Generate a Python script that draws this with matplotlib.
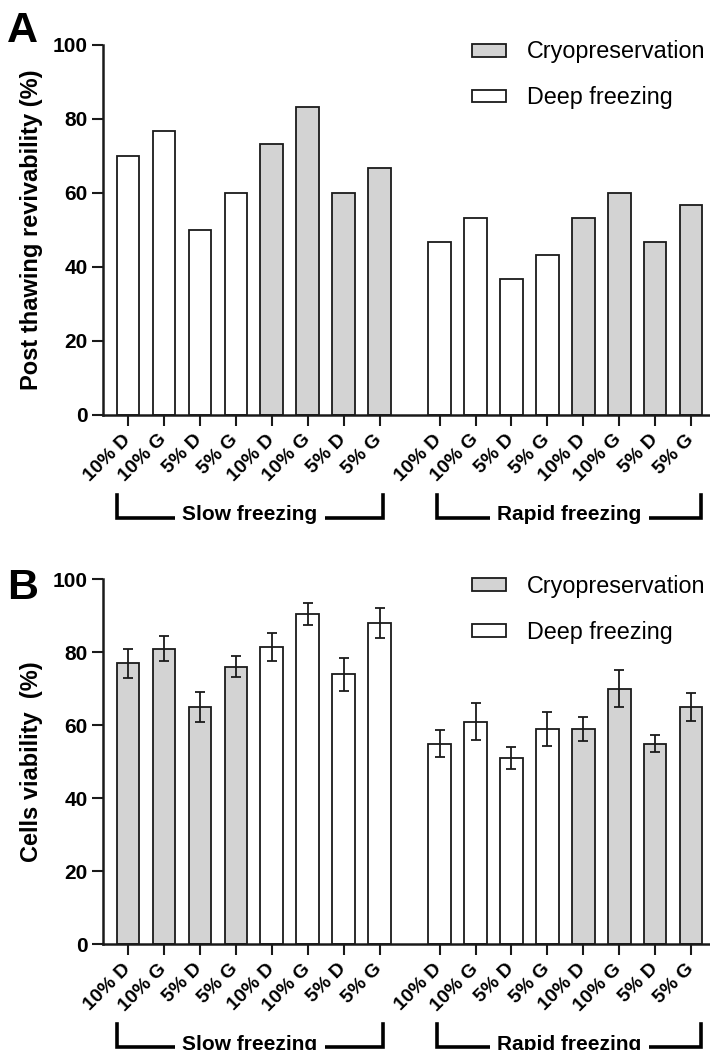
import matplotlib.pyplot as plt
import numpy as np
from matplotlib.patches import Patch
from matplotlib.transforms import blended_transform_factory

# Data.
TICK_LABELS = ["10% D", "10% G", "5% D", "5% G"] * 4
GROUPS = ["Slow freezing", "Rapid freezing"]

# Panel A: post thawing revivability (%).
REVIVABILITY = [70, 76.7, 50, 60, 73.3, 83.3, 60, 66.7,
                46.7, 53.3, 36.7, 43.3, 53.3, 60, 46.7, 56.7]
METHOD_A = ["Deep"] * 4 + ["Cryo"] * 4 + ["Deep"] * 4 + ["Cryo"] * 4

# Panel B: cells viability (%) with error bars.
VIABILITY = [77, 81, 65, 76, 81.5, 90.5, 74, 88,
             55, 61, 51, 59, 59, 70, 55, 65]
VIABILITY_ERR = [4, 3.4, 4.2, 2.9, 3.8, 3, 4.5, 4,
                 3.7, 5, 3, 4.6, 3.2, 5.1, 2.4, 3.9]
METHOD_B = ["Cryo"] * 4 + ["Deep"] * 4 + ["Deep"] * 4 + ["Cryo"] * 4

COLORS = {"Cryo": "#d3d3d3", "Deep": "white"}
EDGE = "#1a1a1a"


def draw_panel(ax, values, methods, ylabel, err=None, bracket_off=(-0.2776, -0.216, -0.285)):
    # two groups of 8 bars, a wider gap between them
    xs = np.concatenate([np.arange(8), np.arange(8) + 8.67])
    colors = [COLORS[m] for m in methods]
    ax.bar(xs, values, width=0.62, color=colors, edgecolor=EDGE, linewidth=1.3, zorder=2)
    if err is not None:
        ax.errorbar(xs, values, yerr=err, fmt="none", ecolor=EDGE,
                    elinewidth=1.3, capsize=3.6, capthick=1.3, zorder=3)

    ax.set_xlim(-0.69, 16.19)
    ax.set_ylim(0, 100)
    ax.set_yticks([0, 20, 40, 60, 80, 100])
    ax.set_xticks(xs)
    ax.set_xticklabels(TICK_LABELS, rotation=45, ha="right", va="center",
                       rotation_mode="anchor", fontsize=14, fontweight="bold")
    for lab in ax.get_yticklabels():
        lab.set_fontweight("bold")
        lab.set_fontsize(15)
    ax.tick_params(axis="both", direction="out", length=8, width=1.5, color=EDGE)
    ax.tick_params(axis="x", pad=8)
    ax.tick_params(axis="y", pad=3)
    for side in ["top", "right"]:
        ax.spines[side].set_visible(False)
    for side in ["left", "bottom"]:
        ax.spines[side].set_linewidth(1.8)
        ax.spines[side].set_color(EDGE)

    ax.set_ylabel(ylabel, fontsize=17, fontweight="bold")
    ax.yaxis.set_label_coords(-0.098, 0.5)

    # group brackets under the tick labels
    y_line, y_top, y_text = bracket_off
    trans = blended_transform_factory(ax.transData, ax.transAxes)
    for name, (x0, x1) in zip(GROUPS, [(-0.3, 7.1), (8.6, 15.95)]):
        ax.plot([x0, x0, x1, x1], [y_top, y_line, y_line, y_top], color="black",
                lw=2.6, transform=trans, clip_on=False, solid_joinstyle="miter", zorder=4)
        ax.text((x0 + x1) / 2, y_text, name, transform=trans, ha="center", va="baseline",
                fontsize=15, fontweight="bold",
                bbox=dict(boxstyle="square,pad=0.35", fc="white", ec="none"), zorder=5)

    handles = [Patch(facecolor=COLORS["Cryo"], edgecolor=EDGE, linewidth=1.3, label="Cryopreservation"),
               Patch(facecolor=COLORS["Deep"], edgecolor=EDGE, linewidth=1.3, label="Deep freezing")]
    ax.legend(handles=handles, loc="upper left", bbox_to_anchor=(0.608, 1.012), frameon=False,
              fontsize=16.8, handlelength=1.45, handleheight=0.47, handletextpad=0.9,
              labelspacing=0.98, borderpad=0, borderaxespad=0)


def main() -> None:
    plt.rcParams["font.family"] = ["Liberation Sans", "DejaVu Sans"]

    fig = plt.figure(figsize=(7.1, 10.5), dpi=100)
    ax_a = fig.add_axes([0.145, 0.6048, 0.855, 0.3524])
    ax_b = fig.add_axes([0.145, 0.1007, 0.855, 0.3476])

    draw_panel(ax_a, REVIVABILITY, METHOD_A, "Post thawing revivability (%)")
    draw_panel(ax_b, VIABILITY, METHOD_B, "Cells viability  (%)", err=VIABILITY_ERR,
               bracket_off=(-0.2814, -0.219, -0.289))

    fig.text(0.010, 0.990, "A", fontsize=31, fontweight="bold", va="top")
    fig.text(0.010, 0.459, "B", fontsize=31, fontweight="bold", va="top")

    fig.savefig("out.png", dpi=100)


if __name__ == "__main__":
    main()
